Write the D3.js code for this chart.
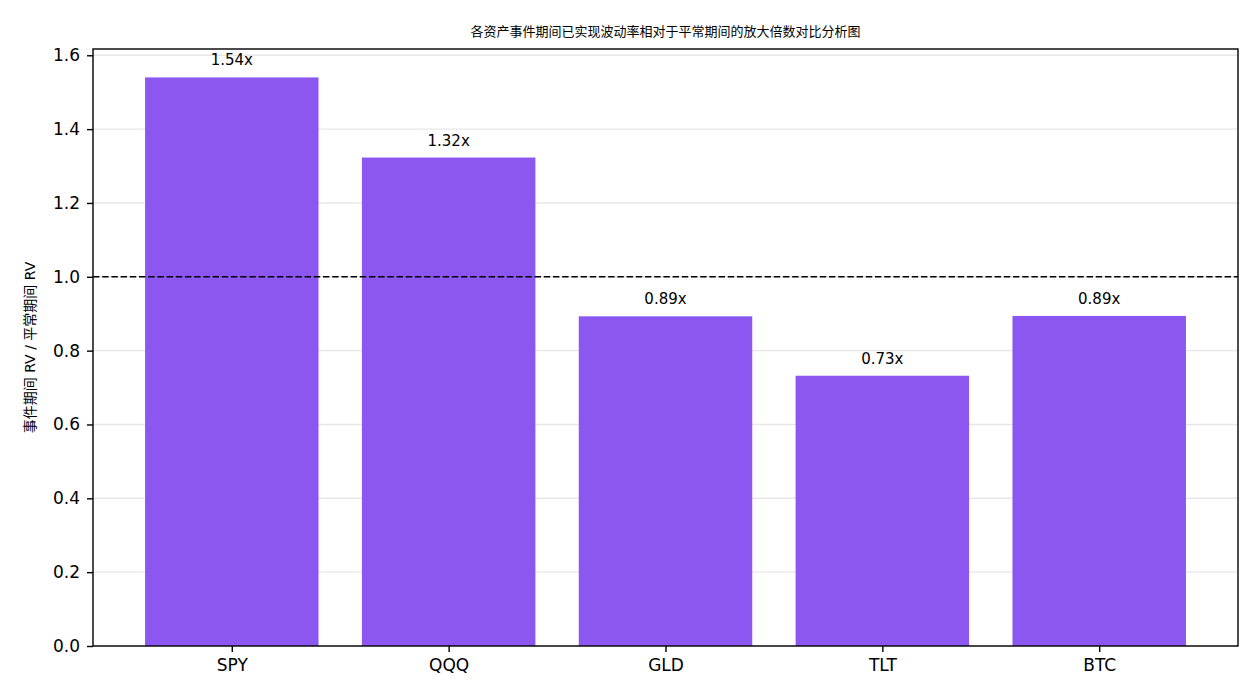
<!DOCTYPE html>
<html>
<head>
<meta charset="utf-8">
<script src="https://cdn.jsdelivr.net/npm/d3@7"></script>
<style>
  body { margin: 0; background: #fff; }
  text { font-family: "DejaVu Sans", "Noto Sans CJK SC", sans-serif; fill: #000; }
</style>
</head>
<body>
<div id="chart"></div>
<script>
// data
var assets = ["SPY", "QQQ", "GLD", "TLT", "BTC"];
var ratios = [1.540, 1.323, 0.893, 0.732, 0.894];
var yTicks = [0.0, 0.2, 0.4, 0.6, 0.8, 1.0, 1.2, 1.4, 1.6];
var titleText = "各资产事件期间已实现波动率相对于平常期间的放大倍数对比分析图";
var yLabelText = "事件期间 RV / 平常期间 RV";

var width = 1260, height = 700;
var margin = {top: 49, right: 22, bottom: 54, left: 93};
var plotW = width - margin.left - margin.right,
    plotH = height - margin.top - margin.bottom;

var svg = d3.select("#chart").append("svg")
    .attr("width", width)
    .attr("height", height);

var g = svg.append("g")
    .attr("transform", "translate(" + margin.left + "," + margin.top + ")");

// x scale: bar width 0.8, margins like matplotlib
var x = d3.scaleLinear().domain([-0.64, 4.64]).range([0, plotW]);
var y = d3.scaleLinear().domain([0, 1.617]).range([plotH, 0]);

// grid
g.append("g").selectAll("line")
    .data(yTicks)
    .join("line")
    .attr("x1", 0).attr("x2", plotW)
    .attr("y1", d => y(d)).attr("y2", d => y(d))
    .style("stroke", "#b0b0b0")
    .style("stroke-opacity", 0.3)
    .style("stroke-width", 1.4);

// bars
g.append("g").selectAll("rect")
    .data(ratios)
    .join("rect")
    .attr("x", (d, i) => x(i - 0.4))
    .attr("width", (d, i) => x(i + 0.4) - x(i - 0.4))
    .attr("y", d => y(d))
    .attr("height", d => plotH - y(d))
    .style("fill", "#8b57f0");

// reference line at 1.0
g.append("line")
    .attr("x1", 0).attr("x2", plotW)
    .attr("y1", y(1)).attr("y2", y(1))
    .style("stroke", "#000")
    .style("stroke-width", 1.5)
    .style("stroke-dasharray", "6.4,2.8");

// value labels
g.append("g").selectAll("text")
    .data(ratios)
    .join("text")
    .attr("x", (d, i) => x(i))
    .attr("y", d => y(d) - 12)
    .attr("text-anchor", "middle")
    .style("font-size", "15px")
    .text(d => d.toFixed(2) + "x");

// axes
var yAxis = d3.axisLeft(y).tickValues(yTicks).tickFormat(d3.format(".1f"))
    .tickSize(6).tickPadding(7);
var xAxis = d3.axisBottom(x).tickValues(d3.range(assets.length))
    .tickFormat(i => assets[i]).tickSize(6).tickPadding(7);

var ya = g.append("g").call(yAxis);
var xa = g.append("g").attr("transform", "translate(0," + plotH + ")").call(xAxis);
[ya, xa].forEach(function (a) {
    a.select(".domain").remove();
    a.selectAll("line").style("stroke", "#000").style("stroke-width", 1.4);
    a.selectAll("text").style("font-size", "17px").style("font-family", "DejaVu Sans");
});

// frame
g.append("rect")
    .attr("width", plotW).attr("height", plotH)
    .style("fill", "none")
    .style("stroke", "#000")
    .style("stroke-width", 1.4);

// title
svg.append("text")
    .attr("x", margin.left + plotW / 2)
    .attr("y", 36)
    .attr("text-anchor", "middle")
    .style("font-size", "13px")
    .text(titleText);

// y label
svg.append("text")
    .attr("transform", "translate(35," + (margin.top + plotH / 2) + ") rotate(-90)")
    .attr("text-anchor", "middle")
    .style("font-size", "14px")
    .text(yLabelText);
</script>
</body>
</html>
